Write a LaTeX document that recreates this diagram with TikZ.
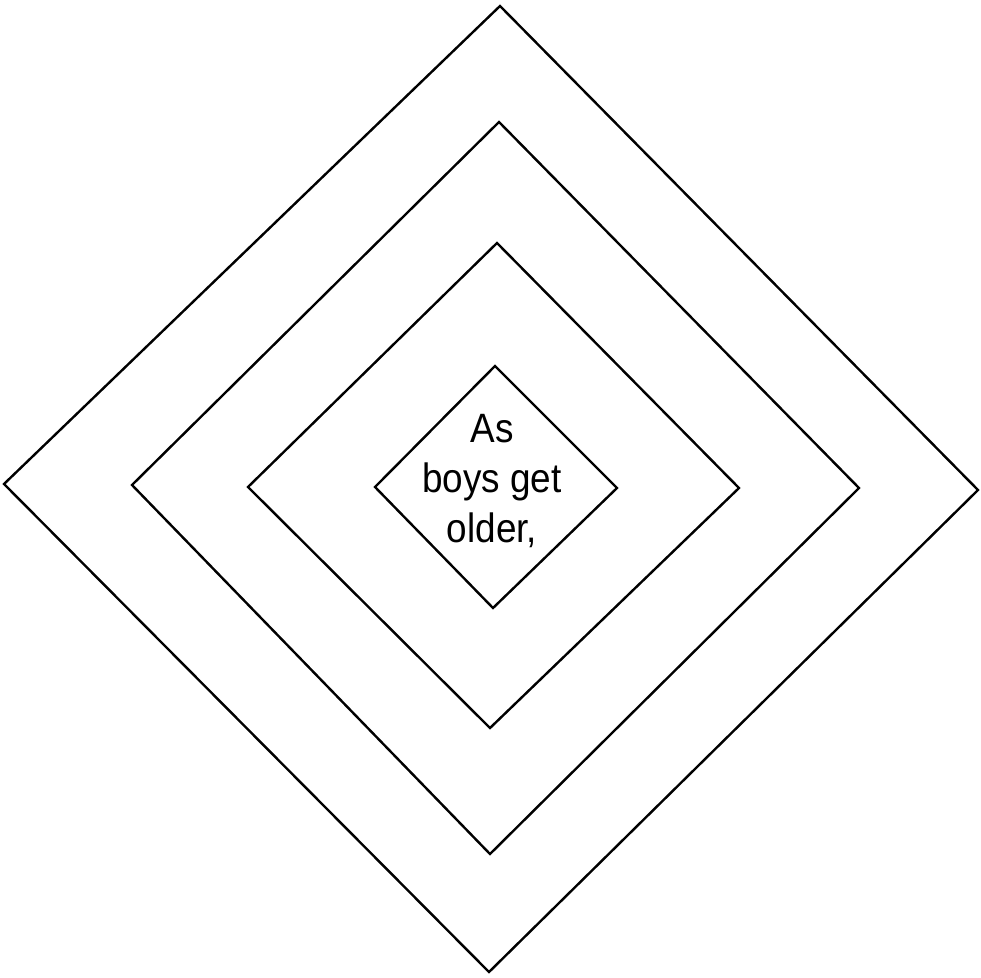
\documentclass[tikz,border=0pt]{standalone}
\usepackage{fontspec}
\setmainfont{Liberation Sans}
\begin{document}
\begin{tikzpicture}[x=1pt,y=-1pt,
  ring/.style={draw=black,line width=2.4pt,line join=miter},
  label/.style={align=center,font=\fontsize{41}{50}\selectfont,xscale=0.9,inner sep=0pt}]
\useasboundingbox[fill=white] (0,0) rectangle (981,977);
\draw[ring] (500,6) -- (978,490) -- (489,972) -- (4,484) -- cycle;
\draw[ring] (499,122) -- (859,488) -- (490,854) -- (132,485) -- cycle;
\draw[ring] (497,243) -- (739,488) -- (490,728) -- (248,487) -- cycle;
\draw[ring] (495,366) -- (617,488) -- (493,608) -- (375,487) -- cycle;
\node[label,anchor=base] (t) at (492,542) {As\\boys get\\older,};
\end{tikzpicture}
\end{document}
